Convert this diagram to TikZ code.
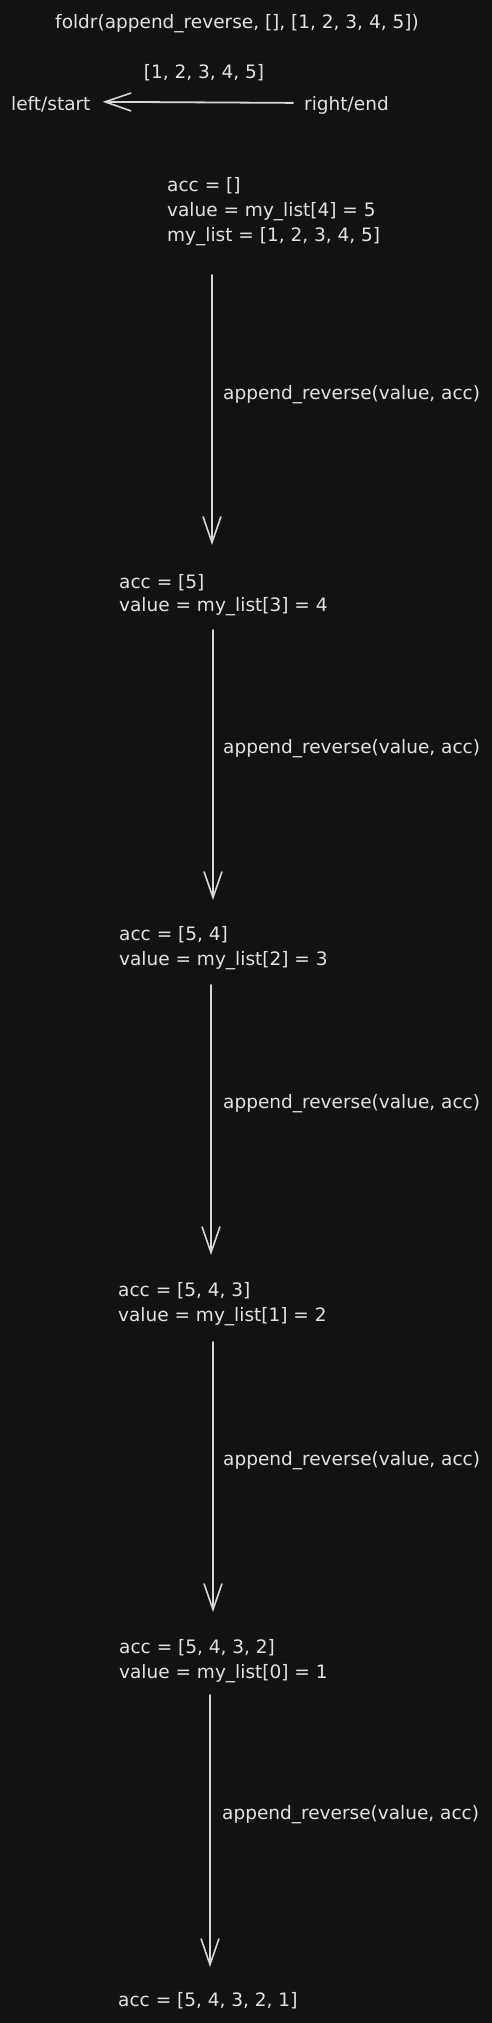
\documentclass[tikz,border=0pt]{standalone}
\usepackage{fontspec}
\setmainfont{DejaVu Sans}
\usetikzlibrary{arrows.meta}
\definecolor{bg}{HTML}{121212}
\definecolor{ink}{HTML}{E2E2E2}
\definecolor{lineink}{HTML}{D6D6D6}
\begin{document}
\begin{tikzpicture}[x=1pt,y=-1pt,
  txt/.style={text=ink, font=\fontsize{18.5}{25}\selectfont, inner sep=0pt, anchor=base west},
  ctxt/.style={txt, anchor=base},
  arr/.style={draw=lineink, line width=1.8pt, line cap=round,
    -{Straight Barb[length=26pt,width=18pt,line width=1.6pt]}}]
\useasboundingbox (0,0) rectangle (491,2023);
\fill[bg] (-10,-10) rectangle (501,2033);

% header
\node[ctxt] (title) at (237,29) {foldr(append\_reverse, [], [1, 2, 3, 4, 5])};
\node[ctxt] (lst) at (204,79) {[1, 2, 3, 4, 5]};
\node[txt] (ls) at (11,111) {left/start};
\node[txt] (re) at (304,111) {right/end};
\draw[arr] ([shift={(-11,-3)}]re.west) -- ([shift={(12,-3)}]ls.east);

% blocks
\node[txt] (b1a) at (167,191) {acc = []};
\node[txt] (b1b) at (167,216) {value = my\_list[4] = 5};
\node[txt] (b1c) at (167,241) {my\_list = [1, 2, 3, 4, 5]};

\node[txt] (b2a) at (119,588) {acc = [5]};
\node[txt] (b2b) at (119,611) {value = my\_list[3] = 4};

\node[txt] (b3a) at (119,940) {acc = [5, 4]};
\node[txt] (b3b) at (119,965) {value = my\_list[2] = 3};

\node[txt] (b4a) at (118,1296) {acc = [5, 4, 3]};
\node[txt] (b4b) at (118,1321) {value = my\_list[1] = 2};

\node[txt] (b5a) at (119,1653) {acc = [5, 4, 3, 2]};
\node[txt] (b5b) at (119,1678) {value = my\_list[0] = 1};

\node[txt] (b6a) at (118,2006) {acc = [5, 4, 3, 2, 1]};

% connectors
\coordinate (s1) at (212,275);  \coordinate (e1) at (212,545);
\coordinate (s2) at (213,630);  \coordinate (e2) at (213,900);
\coordinate (s3) at (211,985);  \coordinate (e3) at (211,1255);
\coordinate (s4) at (213,1342); \coordinate (e4) at (213,1612);
\coordinate (s5) at (210,1695); \coordinate (e5) at (210,1967);
\draw[arr] (s1) -- (e1);
\draw[arr] (s2) -- (e2);
\draw[arr] (s3) -- (e3);
\draw[arr] (s4) -- (e4);
\draw[arr] (s5) -- (e5);

\node[txt] (l1) at (223,399) {append\_reverse(value, acc)};
\node[txt] (l2) at (223,753) {append\_reverse(value, acc)};
\node[txt] (l3) at (223,1108) {append\_reverse(value, acc)};
\node[txt] (l4) at (223,1465) {append\_reverse(value, acc)};
\node[txt] (l5) at (222,1819) {append\_reverse(value, acc)};
\end{tikzpicture}
\end{document}
